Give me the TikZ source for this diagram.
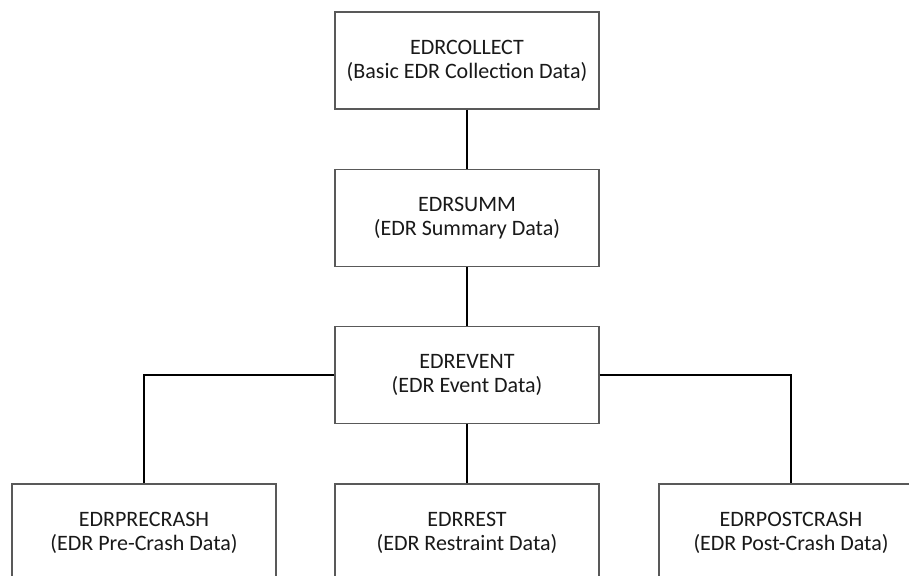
\documentclass[tikz,border=0pt]{standalone}
\usepackage{fontspec}
\setmainfont{Carlito}
\begin{document}
\begin{tikzpicture}[x=1pt,y=-1pt,
  box/.style={draw=black!65, line width=1.4pt, fill=white, minimum width=264pt, minimum height=97pt,
    inner sep=0pt, align=center, font=\fontsize{22}{24}\selectfont, text=black!90},
  conn/.style={draw=black, line width=2pt}]
\useasboundingbox (0,0) rectangle (909,575);
\clip (0,0) rectangle (909,575);
\node[box] (collect) at (467,60.5) {EDRCOLLECT\\(Basic EDR Collection Data)};
\node[box] (summ) at (467,218) {EDRSUMM\\(EDR Summary Data)};
\node[box] (event) at (467,375) {EDREVENT\\(EDR Event Data)};
\node[box] (pre) at (144,532.5) {EDRPRECRASH\\(EDR Pre-Crash Data)};
\node[box] (rest) at (467,532.5) {EDRREST\\(EDR Restraint Data)};
\node[box] (post) at (791,532.5) {EDRPOSTCRASH\\(EDR Post-Crash Data)};
\draw[conn] (collect.south) -- (summ.north);
\draw[conn] (summ.south) -- (event.north);
\draw[conn] (event.south) -- (rest.north);
\draw[conn] (event.west) -| (pre.north);
\draw[conn] (event.east) -| (post.north);
\end{tikzpicture}
\end{document}
